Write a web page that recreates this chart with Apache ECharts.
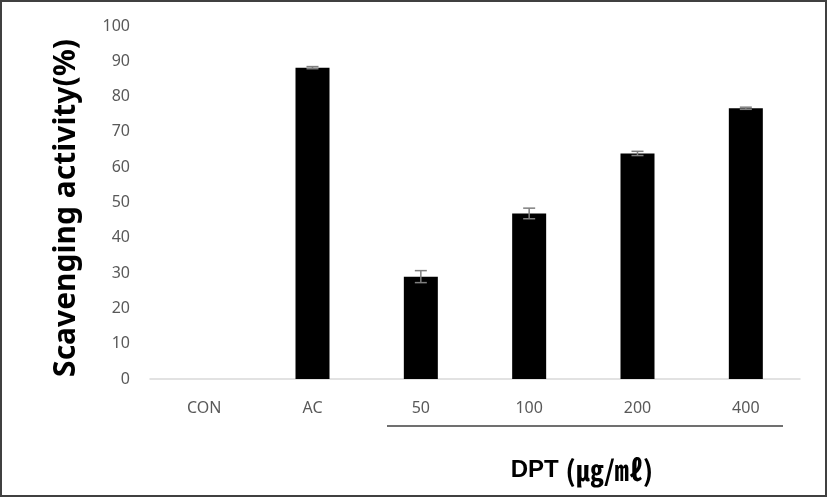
<!DOCTYPE html>
<html>
<head>
<meta charset="utf-8">
<style>
html,body{margin:0;padding:0;background:#fff;}
#chart{width:827px;height:497px;}
</style>
<script src="https://cdn.jsdelivr.net/npm/echarts@6/dist/echarts.min.js"></script>
</head>
<body>
<div id="chart"></div>
<script>
const categories = ['CON', 'AC', '50', '100', '200', '400'];
const values = [0, 88.2, 29.0, 46.9, 63.9, 76.7];
const errors = [0, 0.3, 1.7, 1.5, 0.6, 0.3];
const yTicks = [0, 10, 20, 30, 40, 50, 60, 70, 80, 90, 100];

const chart = echarts.init(document.getElementById('chart'));
const errData = categories.map((c, i) => [i, values[i] - errors[i], values[i] + errors[i]]).filter((d, i) => values[i] > 0);

chart.setOption({
  animation: false,
  backgroundColor: '#fff',
  grid: { left: 150, right: 27, top: 26, bottom: 118, containLabel: false },
  xAxis: {
    type: 'category',
    data: categories,
    axisLine: { lineStyle: { color: '#d9d9d9', width: 1.5 } },
    axisTick: { show: false },
    axisLabel: { color: '#595959', fontSize: 16, margin: 21, fontFamily: 'Noto Sans, sans-serif' }
  },
  yAxis: {
    type: 'value',
    min: 0, max: 100, interval: 10,
    axisLine: { show: false },
    axisTick: { show: false },
    splitLine: { show: false },
    axisLabel: { color: '#595959', fontSize: 16, margin: 20, fontFamily: 'Noto Sans, sans-serif',
      formatter: v => yTicks.includes(v) ? String(v) : '' }
  },
  series: [
    {
      type: 'bar',
      data: values,
      barWidth: 34,
      itemStyle: { color: '#000' },
      z: 2
    },
    {
      type: 'custom',
      data: errData,
      z: 3,
      renderItem: function (params, api) {
        const x = api.value(0);
        const lo = api.coord([x, api.value(1)]);
        const hi = api.coord([x, api.value(2)]);
        const hw = 6;
        const style = { stroke: '#7f7f7f', lineWidth: 1.5 };
        return {
          type: 'group',
          children: [
            { type: 'line', shape: { x1: lo[0], y1: lo[1], x2: hi[0], y2: hi[1] }, style },
            { type: 'line', shape: { x1: lo[0] - hw, y1: lo[1], x2: lo[0] + hw, y2: lo[1] }, style },
            { type: 'line', shape: { x1: hi[0] - hw, y1: hi[1], x2: hi[0] + hw, y2: hi[1] }, style }
          ]
        };
      }
    }
  ],
  graphic: [
    { type: 'rect', shape: { x: 1, y: 1, width: 825, height: 495 }, style: { fill: 'none', stroke: '#404040', lineWidth: 2 }, silent: true },
    { type: 'line', shape: { x1: 387, y1: 426, x2: 783, y2: 426 }, style: { stroke: '#404040', lineWidth: 1.5 } },
    {
      type: 'text', x: 66, y: 208, rotation: Math.PI / 2,
      style: { text: 'Scavenging activity(%)', fill: '#000', font: 'bold 30px "Noto Sans", sans-serif', align: 'center', verticalAlign: 'middle' }
    },
    {
      type: 'text', x: 582, y: 470,
      style: {
        text: '{a|DPT}{s| }{b|(㎍/㎖)}',
        align: 'center', verticalAlign: 'middle',
        rich: {
          a: { font: 'bold 24px "Liberation Sans", Arial, sans-serif', fill: '#000' },
          s: { font: 'bold 24px "Liberation Sans", Arial, sans-serif', fill: '#000' },
          b: { font: 'bold 28px "Noto Sans CJK KR", sans-serif', fill: '#000' }
        }
      }
    }
  ]
});
</script>
</body>
</html>
